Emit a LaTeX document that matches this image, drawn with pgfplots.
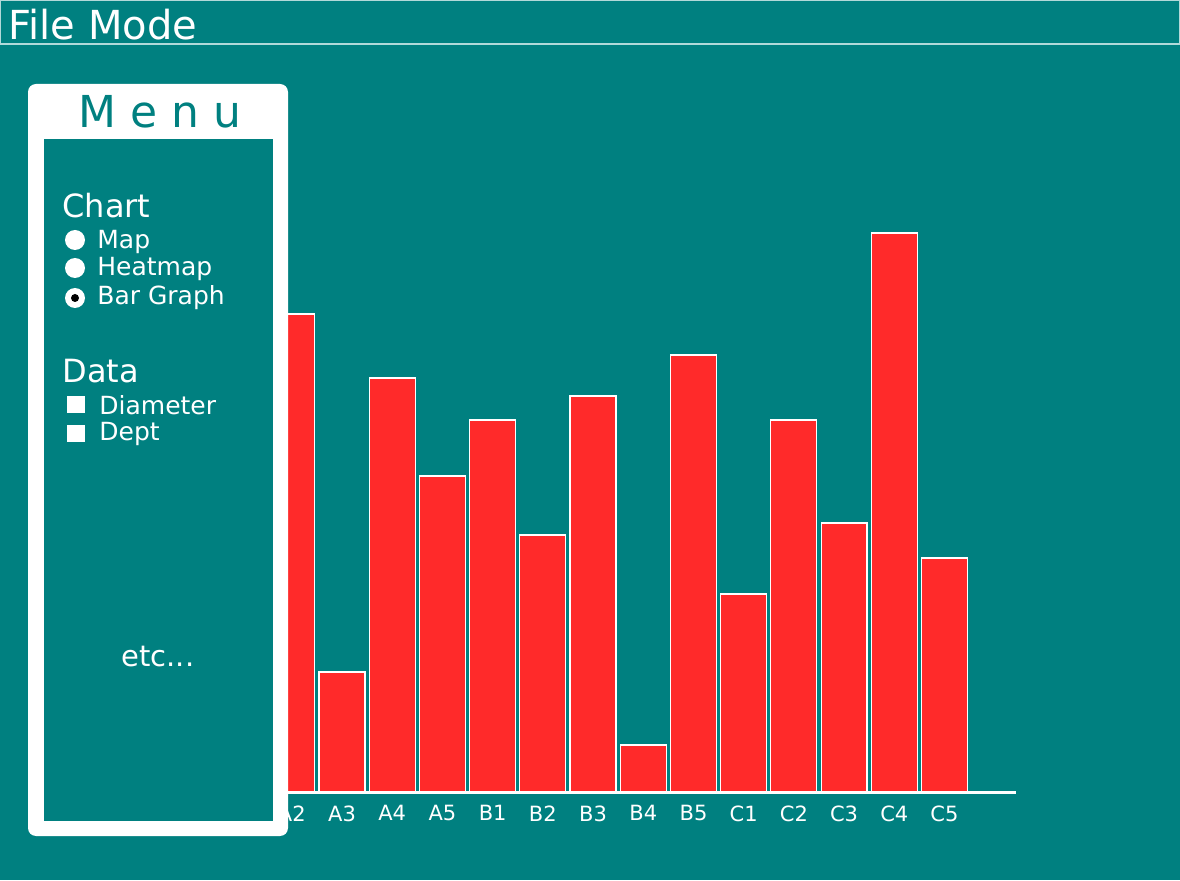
\documentclass[border=0pt]{standalone}
\usepackage{pgfplots}
\pgfplotsset{compat=1.18}
\usepackage{fontspec}
\setmainfont{DejaVu Sans}
\definecolor{teal1}{HTML}{008080}
\definecolor{barred}{HTML}{FF2A2A}
\begin{document}
\begin{tikzpicture}
\useasboundingbox (0,0) rectangle (590pt,440pt);
\begin{scope}[x=0.5pt,y=-0.5pt,yshift=440pt]
\fill[teal1] (0,0) rectangle (1180,880);
\draw[white!70!teal1, line width=0.6pt] (0.5,0.5) rectangle (1179.5,44);
\node[anchor=west,text=white,font=\fontsize{20}{22}\selectfont,inner sep=0] at (8,25) {File Mode};
\end{scope}
\begin{axis}[at={(105.75pt,44pt)}, anchor=south west, scale only axis,
  width=402.4pt, height=300pt, xmin=-0.6, xmax=15.43, ymin=0, ymax=600,
  axis x line=bottom, axis y line=none, axis line style={white, line width=1.5pt, -},
  xtick={0,...,15}, xticklabels={A1,A2,A3,A4,A5,B1,B2,B3,B4,B5,C1,C2,C3,C4,C5,},
  xtick style={draw=none}, ticklabel style={text=white, font=\fontsize{10.5}{12}\selectfont},
  xticklabel style={yshift=1pt},
  ybar, bar width=0.916, clip=false]
\addplot[fill=barred, draw=white, line width=0.6pt] coordinates {
(0,300) (1,478) (2,120) (3,414) (4,316) (5,372) (6,257) (7,396) (8,47) (9,437) (10,198) (11,372) (12,269) (13,559) (14,234)};
\end{axis}
\begin{scope}[x=0.5pt,y=-0.5pt,yshift=440pt]
\fill[white, rounded corners=4pt] (28,84) rectangle (288,836);
\fill[teal1] (44,139) rectangle (273,821);
\node[text=teal1, font=\fontsize{22}{24}\selectfont] at (160,112) {M e n u};
\begin{scope}[every node/.style={anchor=west, text=white, inner sep=0}]
\node[font=\fontsize{16}{18}\selectfont] at (62,206) {Chart};
\node[font=\fontsize{12.5}{14}\selectfont] at (97,242) {Map};
\node[font=\fontsize{12.5}{14}\selectfont] at (97,269) {Heatmap};
\node[font=\fontsize{12.5}{14}\selectfont] at (97,298) {Bar Graph};
\node[font=\fontsize{16}{18}\selectfont] at (62,371) {Data};
\node[font=\fontsize{12.5}{14}\selectfont] at (99,405) {Diameter};
\node[font=\fontsize{12.5}{14}\selectfont] at (99,434) {Dept};
\node[font=\fontsize{14.5}{16}\selectfont, anchor=center] at (158,657) {etc...};
\end{scope}
\fill[white] (75,240) circle (10);
\fill[white] (75,268) circle (10);
\fill[white] (75,298) circle (10);
\fill[black] (75,298) circle (4);
\fill[white] (67,396) rectangle (85,413);
\fill[white] (67,425) rectangle (85,442);
\end{scope}
\end{tikzpicture}
\end{document}
